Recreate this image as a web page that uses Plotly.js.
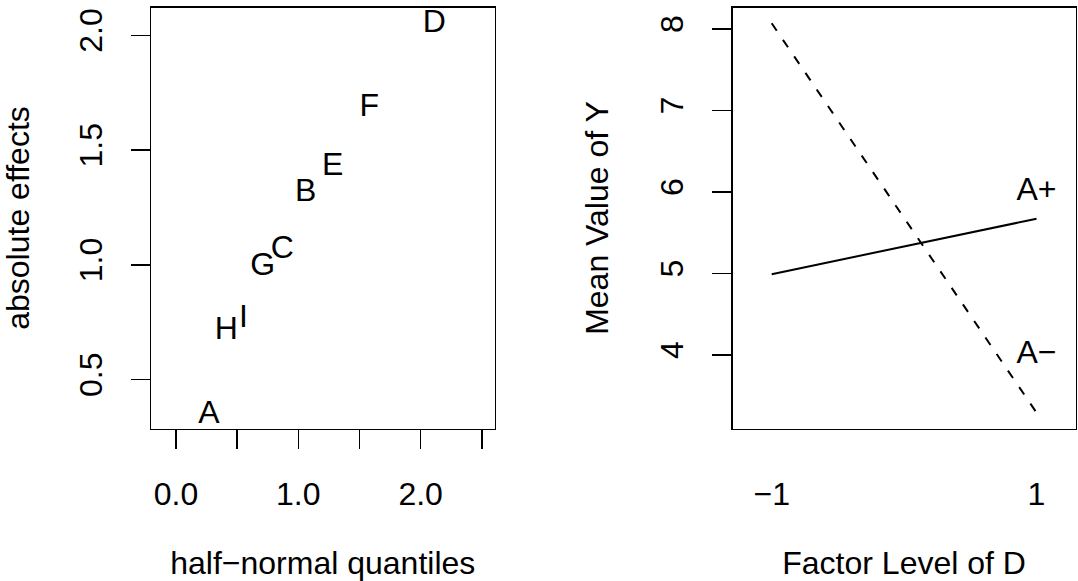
<!DOCTYPE html>
<html><head><meta charset="utf-8">
<script src="https://cdn.plot.ly/plotly-3.0.1.min.js"></script>
<style>html,body{margin:0;padding:0;background:#fff}#chart{width:1078px;height:581px}</style>
</head><body><div id="chart"></div>
<script>
// Left panel: half-normal plot of absolute effects
const effectLabels = ['A','H','I','G','C','B','E','F','D'];
const halfNormalQuantiles = [0.270,0.411,0.551,0.709,0.869,1.060,1.282,1.580,2.112];
const absoluteEffects = [0.347,0.710,0.763,0.989,1.065,1.315,1.427,1.685,2.048];
const leftXTickVals = [0,0.5,1,1.5,2,2.5];
const leftXTickText = ['0.0','','1.0','','2.0',''];
const leftYTickVals = [0.5,1,1.5,2];
const leftYTickText = ['0.5','1.0','1.5','2.0'];

// Right panel: interaction plot
const factorLevelsD = [-1,1];
const meanYAplus = [4.99,5.67];
const meanYAminus = [8.07,3.29];
const seriesLabels = ['A+','A−'];
const seriesLabelX = [1,1];
const seriesLabelY = [6,4];
const rightXTickText = ['−1','1'];
const rightYTickVals = [4,5,6,7,8];

const FONT = 'Liberation Sans, Arial, Helvetica, sans-serif';
const FS = 32;
const W = 1078, H = 581;
const yDom = [1-428.5/H, 1-7.5/H];

const axisBase = {
  showgrid:false, zeroline:false, showline:true, mirror:true,
  linecolor:'#000', linewidth:1.5, ticks:'outside', ticklen:19, tickwidth:1.5, tickcolor:'#000',
  tickfont:{family:FONT,size:FS,color:'#000'}, fixedrange:true
};

const traces = [
  {x:halfNormalQuantiles, y:absoluteEffects, text:effectLabels, mode:'text', type:'scatter',
   textposition:'middle center', textfont:{family:FONT,size:FS,color:'#000'},
   xaxis:'x', yaxis:'y', hoverinfo:'skip', showlegend:false},
  {x:factorLevelsD, y:meanYAplus, mode:'lines', type:'scatter', line:{color:'#000',width:2},
   xaxis:'x2', yaxis:'y2', hoverinfo:'skip', showlegend:false},
  {x:factorLevelsD, y:meanYAminus, mode:'lines', type:'scatter', line:{color:'#000',width:2,dash:'9px,11px'},
   xaxis:'x2', yaxis:'y2', hoverinfo:'skip', showlegend:false},
  {x:seriesLabelX, y:seriesLabelY, text:seriesLabels, mode:'text', type:'scatter',
   textposition:'middle center', textfont:{family:FONT,size:FS,color:'#000'},
   xaxis:'x2', yaxis:'y2', hoverinfo:'skip', showlegend:false}
];

const layout = {
  width:W, height:H, margin:{l:0,r:0,t:0,b:0}, paper_bgcolor:'#fff', plot_bgcolor:'#fff',
  font:{family:FONT,size:FS,color:'#000'}, showlegend:false,
  xaxis:Object.assign({}, axisBase, {domain:[151/W,494.5/W], range:[-0.204,2.604], anchor:'y',
    tickmode:'array', tickvals:leftXTickVals, ticktext:leftXTickText, ticklabelstandoff:18,
    title:{text:'half−normal quantiles', font:{family:FONT,size:FS,color:'#000'}, standoff:58}}),
  yaxis:Object.assign({}, axisBase, {domain:yDom, range:[0.287,2.121], anchor:'x',
    tickmode:'array', tickvals:leftYTickVals, ticktext:leftYTickText, tickangle:-90, ticklabelstandoff:16,
    title:{text:'absolute effects', font:{family:FONT,size:FS,color:'#000'}, standoff:34}}),
  xaxis2:Object.assign({}, axisBase, {domain:[732.5/W,1075.7/W], range:[-1.296,1.296], anchor:'y2',
    tickmode:'array', tickvals:factorLevelsD, ticktext:rightXTickText, tickcolor:'rgba(0,0,0,0)', ticklabelstandoff:18,
    title:{text:'Factor Level of D', font:{family:FONT,size:FS,color:'#000'}, standoff:58}}),
  yaxis2:Object.assign({}, axisBase, {domain:yDom, range:[3.095,8.264], anchor:'x2',
    tickmode:'array', tickvals:rightYTickVals, tickangle:-90, ticklabelstandoff:16,
    title:{text:'Mean Value of Y', font:{family:FONT,size:FS,color:'#000'}, standoff:36}})
};

Plotly.newPlot('chart', traces, layout, {displayModeBar:false, staticPlot:true});
</script></body></html>
